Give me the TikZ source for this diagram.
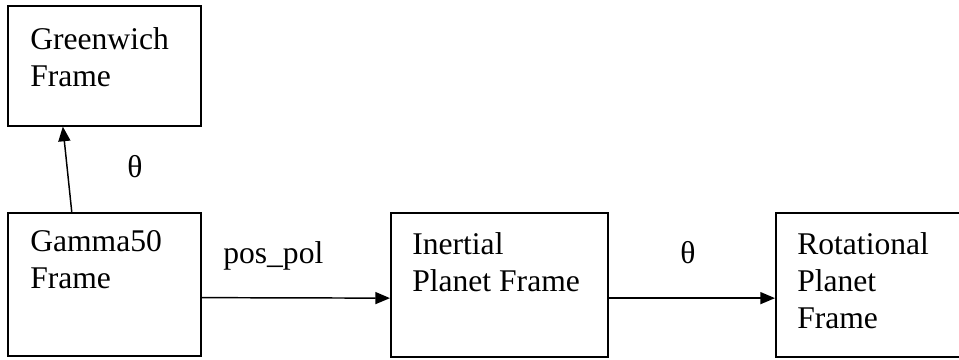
\documentclass[tikz,border=0pt]{standalone}
\usepackage{fontspec}
\setmainfont{Liberation Serif}
\usetikzlibrary{arrows.meta,positioning,calc}
\tikzset{
    framebox/.style={draw,line width=1.2pt,anchor=north west,inner sep=0pt},
    frametext/.style={anchor=north west,align=left,inner sep=0pt,font=\fontsize{23.7}{28}\selectfont},
    lbl/.style={inner sep=0pt,font=\fontsize{23.7}{28}\selectfont},
    arrow/.style={-{Triangle[length=11pt,width=9pt]},line width=1.1pt}
}
\begin{document}
\begin{tikzpicture}[x=0.75pt,y=-0.75pt]
    \useasboundingbox (0,0) rectangle (959,360);
    \clip (0,0) rectangle (959,360);
    % frames
    \node[framebox,minimum width=144.75pt,minimum height=90pt] (green) at (7,5) {};
    \node[framebox,minimum width=144.75pt,minimum height=107.25pt] (gamma) at (7,212) {};
    \node[framebox,minimum width=162.75pt,minimum height=108pt] (inert) at (390,212) {};
    \node[framebox,minimum width=142.5pt,minimum height=108pt] (rot) at (775,212) {};
    \node[frametext] (greentxt) at ([shift={(23,22)}]green.north west) {Greenwich\\Frame};
    \node[frametext] (gammatxt) at ([shift={(23,18)}]gamma.north west) {Gamma50\\Frame};
    \node[frametext] (inerttxt) at ([shift={(22,20)}]inert.north west) {Inertial\\Planet Frame};
    \node[frametext] (rottxt) at ([shift={(22,20)}]rot.north west) {Rotational\\Planet\\Frame};
    % transforms
    \draw[arrow] ([xshift=-24.4pt]gamma.north)--([xshift=-31.1pt]green.south);
    \draw[arrow] ([yshift=-10pt]gamma.east)--([yshift=-10pt]inert.west);
    \draw[arrow] ([yshift=-10pt]inert.east)--([yshift=-10pt]rot.west);
    \node[lbl,anchor=base] (thup) at (135,177) {θ};
    \node[lbl,anchor=base west] (pospol) at (223,263) {pos\_pol};
    \node[lbl,anchor=base] (thright) at (688,263) {θ};
\end{tikzpicture}
\end{document}
